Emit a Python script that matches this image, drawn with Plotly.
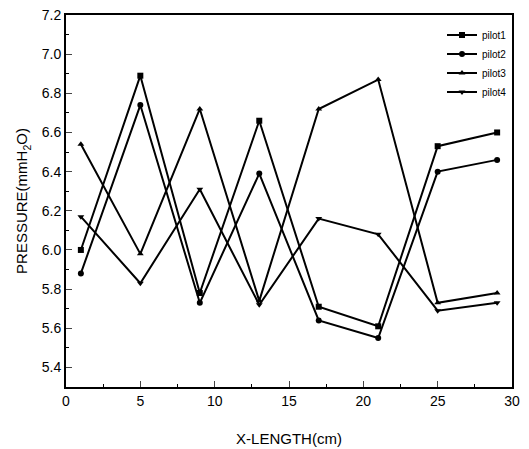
import plotly.graph_objects as go

x_length = [1, 5, 9, 13, 17, 21, 25, 29]
pilot1 = [6.00, 6.89, 5.78, 6.66, 5.71, 5.61, 6.53, 6.60]
pilot2 = [5.88, 6.74, 5.73, 6.39, 5.64, 5.55, 6.40, 6.46]
pilot3 = [6.54, 5.98, 6.72, 5.74, 6.72, 6.87, 5.73, 5.78]
pilot4 = [6.17, 5.83, 6.31, 5.72, 6.16, 6.08, 5.69, 5.73]
names = ["pilot1", "pilot2", "pilot3", "pilot4"]
series = [pilot1, pilot2, pilot3, pilot4]
symbols = ["square", "circle", "triangle-up", "triangle-down"]
y_ticks = [5.4, 5.6, 5.8, 6.0, 6.2, 6.4, 6.6, 6.8, 7.0, 7.2]
x_ticks = [0, 5, 10, 15, 20, 25, 30]

fig = go.Figure()
for n, s, sym in zip(names, series, symbols):
    fig.add_trace(go.Scatter(
        x=x_length, y=s, name=n, mode="lines+markers",
        line=dict(color="black", width=2),
        marker=dict(symbol=sym, size=6, color="black"),
    ))

fig.update_layout(
    width=529, height=449,
    margin=dict(l=66, r=17, t=15, b=62, autoexpand=False),
    paper_bgcolor="white", plot_bgcolor="white",
    font=dict(family="Liberation Sans, Arial, sans-serif", color="black", size=14),
    showlegend=True,
    legend=dict(x=1.0, y=0.985, xanchor="right", yanchor="top",
                bgcolor="rgba(0,0,0,0)", font=dict(size=10),
                tracegroupgap=1, itemwidth=30),
)
fig.update_xaxes(
    range=[0, 30], tickvals=x_ticks, ticks="inside", ticklen=6,
    showline=True, linecolor="black", linewidth=2, mirror=True,
    showgrid=False, zeroline=False, automargin=False,
    minor=dict(dtick=2.5, ticks="inside", ticklen=3, tickcolor="black"),
    title=dict(text="X-LENGTH(cm)", font=dict(size=15), standoff=26),
    tickfont=dict(size=14),
)
fig.update_yaxes(
    range=[5.3, 7.2], tickvals=y_ticks, ticktext=[f"{v:.1f}" for v in y_ticks],
    ticks="inside", ticklen=6,
    showline=True, linecolor="black", linewidth=2, mirror=True,
    showgrid=False, zeroline=False, automargin=False,
    minor=dict(dtick=0.1, ticks="inside", ticklen=3, tickcolor="black"),
    title=dict(text="PRESSURE(mmH<sub>2</sub>O)", font=dict(size=15), standoff=10),
    tickfont=dict(size=14),
)
fig.write_html("out.html", config={"displayModeBar": False},
               post_script="document.body.style.margin='0';")
